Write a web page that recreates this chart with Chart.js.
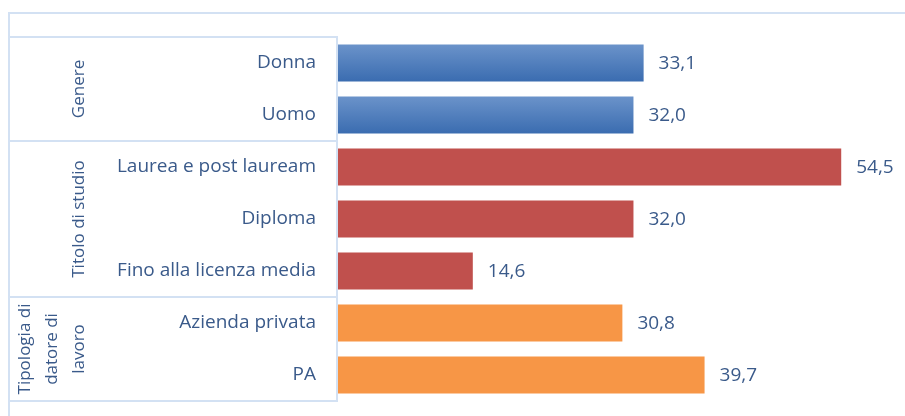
<!DOCTYPE html>
<html>
<head>
<meta charset="utf-8">
<script src="https://cdn.jsdelivr.net/npm/chart.js@4"></script>
<style>
html,body{margin:0;padding:0;background:#fff;}
#wrap{width:905px;height:416px;position:relative;}
</style>
</head>
<body>
<div id="wrap"><canvas id="c" width="905" height="416"></canvas></div>
<script>
const categories = ["Donna","Uomo","Laurea e post lauream","Diploma","Fino alla licenza media","Azienda privata","PA"];
const values = [33.1, 32.0, 54.5, 32.0, 14.6, 30.8, 39.7];
const groupNames = [["Genere"], ["Titolo di studio"], ["Tipologia di","datore di","lavoro"]];
const groupSizes = [2, 3, 2];
const groupColors = ["#4F81BD", "#C0504D", "#F79646"];

const TEXT = "#3A5A8A";
const LINE = "#D3E1F3";
const FONT = "'Open Sans', sans-serif";

const groupOf = [];
groupSizes.forEach((n, g) => { for (let i = 0; i < n; i++) groupOf.push(g); });

function barColor(ctx) {
  const g = groupOf[ctx.dataIndex];
  if (g === 0) {
    const chart = ctx.chart;
    const ys = chart.scales && chart.scales.y;
    if (!chart.chartArea || !ys) return groupColors[0];
    const yc = ys.getPixelForValue(ctx.dataIndex);
    const h = ys.getPixelForValue(1) - ys.getPixelForValue(0);
    const grad = chart.ctx.createLinearGradient(0, yc - h * 0.36, 0, yc + h * 0.36);
    grad.addColorStop(0, "#6B93CA");
    grad.addColorStop(1, "#3A6CB0");
    return grad;
  }
  return groupColors[g];
}

const framePlugin = {
  id: "frame",
  beforeDraw(chart) {
    const ctx = chart.ctx, ca = chart.chartArea, ys = chart.scales.y;
    ctx.save();
    ctx.strokeStyle = LINE;
    ctx.lineWidth = 2;
    ctx.beginPath();
    ctx.moveTo(9, chart.height);
    ctx.lineTo(9, 13);
    ctx.lineTo(chart.width, 13);
    ctx.stroke();
    let idx = -0.5;
    const bounds = [idx];
    groupSizes.forEach(n => { idx += n; bounds.push(idx); });
    bounds.forEach(b => {
      const y = Math.round(ys.getPixelForValue(b));
      ctx.beginPath();
      ctx.moveTo(9, y);
      ctx.lineTo(ca.left, y);
      ctx.stroke();
    });
    ctx.beginPath();
    ctx.moveTo(ca.left - 1, Math.round(ys.getPixelForValue(bounds[0])));
    ctx.lineTo(ca.left - 1, Math.round(ys.getPixelForValue(bounds[bounds.length - 1])));
    ctx.stroke();
    ctx.restore();
  },
  afterDatasetsDraw(chart) {
    const ctx = chart.ctx, ys = chart.scales.y;
    ctx.save();
    ctx.fillStyle = TEXT;
    ctx.textBaseline = "middle";
    ctx.font = "19px " + FONT;
    const meta = chart.getDatasetMeta(0);
    meta.data.forEach((bar, i) => {
      ctx.textAlign = "left";
      ctx.fillText(values[i].toFixed(1).replace(".", ","), bar.x + 15, bar.y + 1);
    });
    ctx.font = "17px " + FONT;
    let start = -0.5;
    groupSizes.forEach((n, g) => {
      const y0 = ys.getPixelForValue(start), y1 = ys.getPixelForValue(start + n);
      const yc = (y0 + y1) / 2;
      const lines = groupNames[g];
      const lh = 27;
      const xLast = 79;
      lines.forEach((t, k) => {
        const x = xLast - (lines.length - 1 - k) * lh;
        ctx.save();
        ctx.translate(x, yc);
        ctx.rotate(-Math.PI / 2);
        ctx.textAlign = "center";
        ctx.textBaseline = "middle";
        ctx.fillText(t, 0, 0);
        ctx.restore();
      });
      start += n;
    });
    ctx.restore();
  }
};

new Chart(document.getElementById("c"), {
  type: "bar",
  data: {
    labels: categories,
    datasets: [{
      data: values,
      backgroundColor: barColor,
      borderWidth: 0,
      barPercentage: 0.71,
      categoryPercentage: 1.0
    }]
  },
  options: {
    indexAxis: "y",
    responsive: false,
    animation: false,
    devicePixelRatio: 1,
    layout: { padding: { top: 37, bottom: 15, right: 13, left: 0 } },
    plugins: { legend: { display: false }, tooltip: { enabled: false } },
    scales: {
      x: { display: false, min: 0, max: 60 },
      y: {
        grid: { display: false, drawTicks: false },
        border: { display: false },
        ticks: { color: TEXT, font: { family: FONT, size: 19 }, padding: 22 },
        afterFit(scale) { scale.width = 338; scale.paddingTop = 0; scale.paddingBottom = 0; }
      }
    }
  },
  plugins: [framePlugin]
});
</script>
</body>
</html>
